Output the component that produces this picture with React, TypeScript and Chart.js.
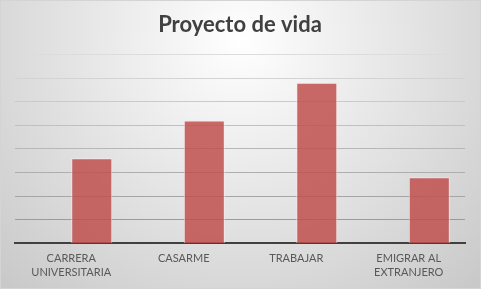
import React, { useEffect, useRef } from "react";
import { Chart, registerables } from "chart.js";

Chart.register(...registerables);

const categories: string[][] = [
  ["CARRERA", "UNIVERSITARIA"],
  ["CASARME"],
  ["TRABAJAR"],
  ["EMIGRAR AL", "EXTRANJERO"],
];
const emptySeries: (number | null)[] = [null, null, null, null];
const values: number[] = [18, 26, 34, 14];
const yMax = 40;
const yStep = 5;
const titleText = "Proyecto de vida";

const bgPlugin = {
  id: "bgPlugin",
  beforeDraw(chart: any) {
    const { ctx, width, height } = chart;
    ctx.save();
    const g = ctx.createRadialGradient(width / 2, 40, 0, width / 2, 40, 340);
    g.addColorStop(0, "#FFFFFF");
    g.addColorStop(1, "#C9C9C9");
    ctx.fillStyle = g;
    ctx.fillRect(0, 0, width, height);
    ctx.strokeStyle = "#D4D4D4";
    ctx.lineWidth = 1;
    ctx.strokeRect(0.5, 0.5, width - 1, height - 1);
    ctx.restore();
  },
};

export default function App() {
  const ref = useRef<HTMLCanvasElement | null>(null);
  useEffect(() => {
    document.body.style.margin = "0";
    if (!ref.current) return;
    const chart = new Chart(ref.current, {
      type: "bar",
      data: {
        labels: categories,
        datasets: [
          {
            label: "vacío",
            data: emptySeries,
            backgroundColor: "rgba(0,0,0,0)",
          },
          {
            label: "Serie",
            data: values,
            backgroundColor: "rgba(192,80,77,0.85)",
            borderColor: "rgba(255,235,235,0.7)",
            borderWidth: 1,
            borderSkipped: "bottom",
          },
        ],
      },
      options: {
        animation: false,
        responsive: false,
        maintainAspectRatio: false,
        layout: { padding: { left: 15, right: 16, top: 0, bottom: 1 } },
        datasets: {
          bar: { categoryPercentage: 0.73, barPercentage: 1 },
        },
        plugins: {
          legend: { display: false },
          tooltip: { enabled: false },
          title: {
            display: true,
            text: titleText,
            color: "#404040",
            font: { family: "Lato", size: 22, weight: "bold" },
            padding: { top: 12, bottom: 16 },
          },
        },
        scales: {
          x: {
            grid: { display: false, drawTicks: false },
            border: { display: true, color: "#404040", width: 2 },
            ticks: {
              color: "#595959",
              font: { family: "Lato", size: 11, lineHeight: 1.3 },
              padding: 8,
              maxRotation: 0,
              autoSkip: false,
            },
          },
          y: {
            min: 0,
            max: yMax,
            ticks: { display: false, stepSize: yStep },
            border: { display: false },
            grid: {
              drawTicks: false,
              color: (ctx: any) => {
                const v = ctx.tick ? ctx.tick.value : 0;
                const t = v / yMax;
                const c = Math.round(0x92 + (0xDC - 0x92) * t);
                return `rgb(${c},${c},${c})`;
              },
            },
          },
        },
      },
      plugins: [bgPlugin],
    });
    return () => chart.destroy();
  }, []);
  return <canvas ref={ref} width={481} height={289} style={{ display: "block" }} />;
}
